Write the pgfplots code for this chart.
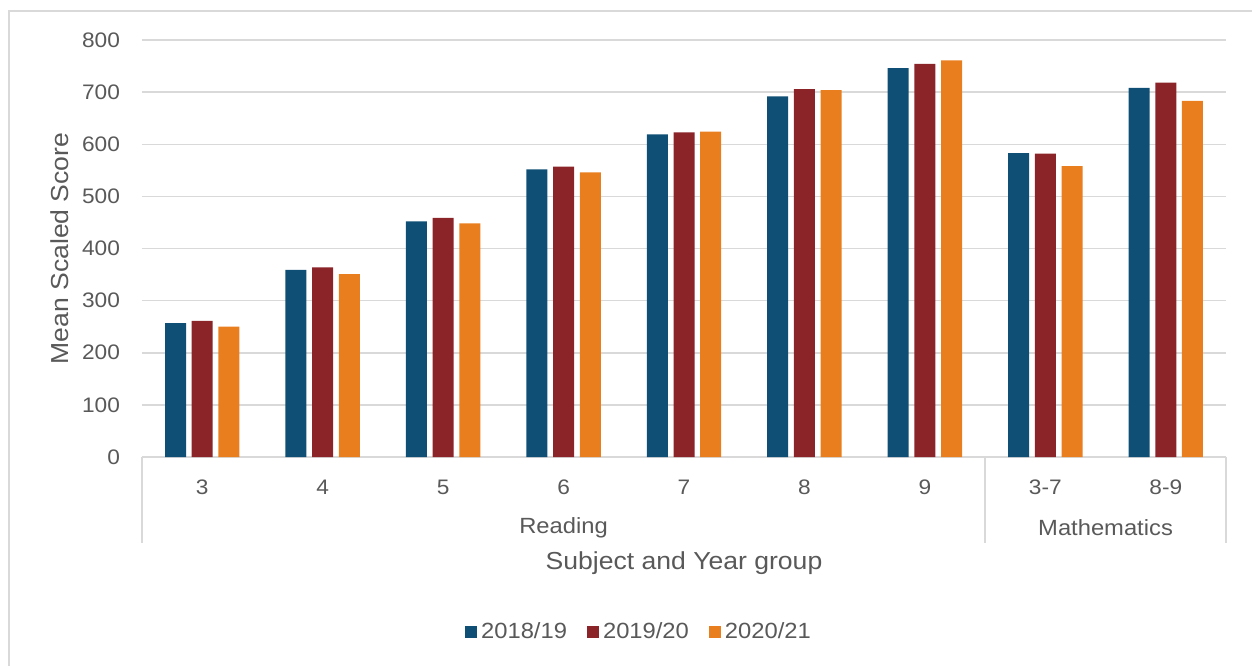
\documentclass[border=0pt]{standalone}
\usepackage{pgfplots}
\pgfplotsset{compat=1.18}
\usepackage{fontspec}
\setmainfont{Liberation Sans}[FakeStretch=1.08]

\definecolor{cblue}{HTML}{104F75}
\definecolor{cred}{HTML}{8B2429}
\definecolor{corange}{HTML}{E87E1E}
\definecolor{gridgray}{HTML}{D9D9D9}
\definecolor{txt}{HTML}{595959}

\newcommand{\ticksize}{\fontsize{10.5bp}{12bp}\selectfont}
\newcommand{\groupsize}{\fontsize{11bp}{13bp}\selectfont}
\newcommand{\titlesize}{\fontsize{12.3bp}{14bp}\selectfont}

\begin{document}
\begin{tikzpicture}
% page = 1252 x 666 px at 2 px per bp, axis box lower left at (0,0)
\path[use as bounding box] (-71bp,-104.5bp) rectangle (555bp,228.5bp);
\draw[gridgray, line width=0.75bp] (-66.5bp,-130bp) rectangle (570bp,223bp);
\begin{axis}[
    scale only axis,
    width=542bp, height=208.5bp,
    ybar=2.85bp, bar width=10.5bp,
    xmin=-0.5, xmax=8.5,
    ymin=0, ymax=800,
    xtick={0,...,8},
    xticklabels={3,4,5,6,7,8,9,3-7,8-9},
    ytick={0,100,...,800},
    ymajorgrids,
    grid style={draw=gridgray, line width=0.75bp},
    axis line style={draw=none},
    major tick length=0pt,
    tick style={draw=none},
    clip=false,
    /pgf/number format/assume math mode=true,
    ticklabel style={font=\ticksize, text=txt},
    yticklabel style={xshift=-7.5bp},
    xticklabel style={anchor=center, yshift=-15bp},
    legend columns=3,
    legend style={at={(0.4594,-0.4197)}, anchor=center, draw=none,
        font=\fontsize{11bp}{13bp}\selectfont, text=txt,
        nodes={inner xsep=2bp, inner ysep=0.5bp, anchor=west},
        /tikz/every even column/.append style={column sep=8bp}},
    legend image code/.code={\fill[#1] (0bp,-3bp) rectangle (6bp,3bp);},
]
\addplot[fill=cblue, draw=none] coordinates {
    (0,257) (1,359) (2,452) (3,552) (4,619) (5,692) (6,746) (7,583) (8,708)};
\addplot[fill=cred, draw=none] coordinates {
    (0,261) (1,364) (2,459) (3,557) (4,623) (5,706) (6,754) (7,582) (8,718)};
\addplot[fill=corange, draw=none] coordinates {
    (0,250) (1,351) (2,448) (3,546) (4,624) (5,704) (6,761) (7,558) (8,683)};
\legend{2018/19,2019/20,2020/21}

\draw[gridgray, line width=0.75bp] (axis cs:-0.5,0) -- ([yshift=-43bp]axis cs:-0.5,0);
\draw[gridgray, line width=0.75bp] (axis cs:6.5,0) -- ([yshift=-43bp]axis cs:6.5,0);
\draw[gridgray, line width=0.75bp] (axis cs:8.5,0) -- ([yshift=-43bp]axis cs:8.5,0);
\node[font=\groupsize, text=txt] at ([yshift=-35.5bp]axis cs:3,0) {Reading};
\node[font=\groupsize, text=txt] at ([yshift=-35.5bp]axis cs:7.5,0) {Mathematics};
\node[font=\titlesize, text=txt] at ([yshift=-53bp]rel axis cs:0.5,0) {Subject and Year group};
\node[font=\titlesize, text=txt, rotate=90] at ([xshift=-41bp]rel axis cs:0,0.5) {Mean Scaled Score};
\end{axis}
\end{tikzpicture}
\end{document}
